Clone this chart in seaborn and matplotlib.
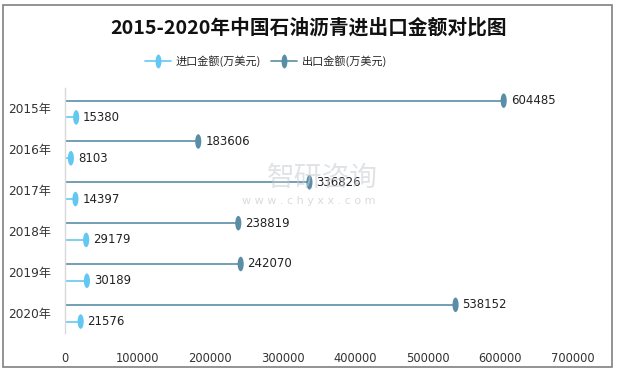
import numpy as np
import pandas as pd
import matplotlib
matplotlib.use("Agg")
import matplotlib.pyplot as plt
from matplotlib.path import Path
from matplotlib.transforms import Affine2D
from matplotlib.lines import Line2D
from matplotlib.patches import Rectangle
import seaborn as sns

years = ["2015年", "2016年", "2017年", "2018年", "2019年", "2020年"]
imports = [15380, 8103, 14397, 29179, 30189, 21576]
exports = [604485, 183606, 336826, 238819, 242070, 538152]
series_names = ["进口金额(万美元)", "出口金额(万美元)"]
xticks = [0, 100000, 200000, 300000, 400000, 500000, 600000, 700000]

sns.set_theme(style="white")
plt.rcParams['font.family'] = ['DejaVu Sans', 'Noto Sans CJK SC']

c_imp = "#62C8F3"
c_exp = "#5A8EA7"

ellipse = Path.unit_circle().transformed(Affine2D().scale(0.42, 1.0))

fig = plt.figure(figsize=(6.17, 3.72), dpi=100)
ax = fig.add_axes([65/617, 1-333/372, (573-65)/617, (333-88)/372])

idx = np.arange(len(years))
df = pd.DataFrame({
    "year": years * 2,
    "pos": np.concatenate([idx - 0.19, idx + 0.22]),
    "value": exports + imports,
    "series": [series_names[1]] * 6 + [series_names[0]] * 6,
})

for name, col in [(series_names[1], c_exp), (series_names[0], c_imp)]:
    sub = df[df.series == name]
    ax.hlines(sub.pos, 0, sub.value, color=col, lw=1.2, zorder=2)
sns.scatterplot(data=df, x="value", y="pos", hue="series",
                palette={series_names[0]: c_imp, series_names[1]: c_exp},
                marker=ellipse, s=110, linewidth=0, ax=ax, legend=False, zorder=3)

for _, r in df.iterrows():
    ax.annotate(f"{r.value}", (r.value, r.pos), xytext=(5, 0), textcoords="offset points",
                va="center", ha="left", fontsize=8.5, color="#222222", zorder=5)

ax.set_ylim(5.5, -0.5)
ax.set_xlim(0, 700000)
ax.set_yticks(idx)
ax.set_yticklabels(years, fontsize=8.7, color="#333333",
                   fontfamily=['DejaVu Sans', 'Noto Sans CJK SC'])
ax.set_xticks(xticks)
ax.set_xticklabels([str(v) for v in xticks], fontsize=8.3, color="#333333")
ax.tick_params(axis="x", pad=14, length=0)
ax.tick_params(axis="y", pad=10, length=0)
ax.set_xlabel("")
ax.set_ylabel("")
for s in ["top", "right", "bottom"]:
    ax.spines[s].set_visible(False)
ax.spines["left"].set_color("#d9d9d9")
ax.spines["left"].set_linewidth(1)

fig.suptitle("2015-2020年中国石油沥青进出口金额对比图", y=1-28/372, va="center",
             fontsize=14.2, fontweight="bold", color="#111111",
             fontfamily=['Noto Sans CJK SC', 'DejaVu Sans'])

handles = [Line2D([0, 1], [0, 0], color=c_imp, lw=1.2, marker=ellipse, markersize=10, markevery=[1],
                  markeredgewidth=0),
           Line2D([0, 1], [0, 0], color=c_exp, lw=1.2, marker=ellipse, markersize=10, markevery=[1],
                  markeredgewidth=0)]
fig.legend(handles, series_names, loc="center", bbox_to_anchor=(266/617, 1-61/372), ncol=2,
           frameon=False, handlelength=2.3, columnspacing=0.9, handletextpad=0.45,
           prop={'family': ['Noto Sans CJK SC', 'DejaVu Sans'], 'size': 8.0})

# watermark
fig.text(322/617, 1-178/372, "智研咨询", ha="center", va="center", fontsize=20, color="#c8ccd2",
         alpha=0.55, zorder=0, fontfamily=['Noto Sans CJK SC'])
fig.text(309/617, 1-201/372, "w w w . c h y x x . c o m", ha="center", va="center", fontsize=8,
         color="#c8ccd2", alpha=0.7, zorder=0)

fig.patches.append(Rectangle((3/617, 1-367/372), 609/617, 362/372, transform=fig.transFigure,
                             fill=False, edgecolor="#808080", lw=1.2))

fig.savefig("out.png", dpi=100)
